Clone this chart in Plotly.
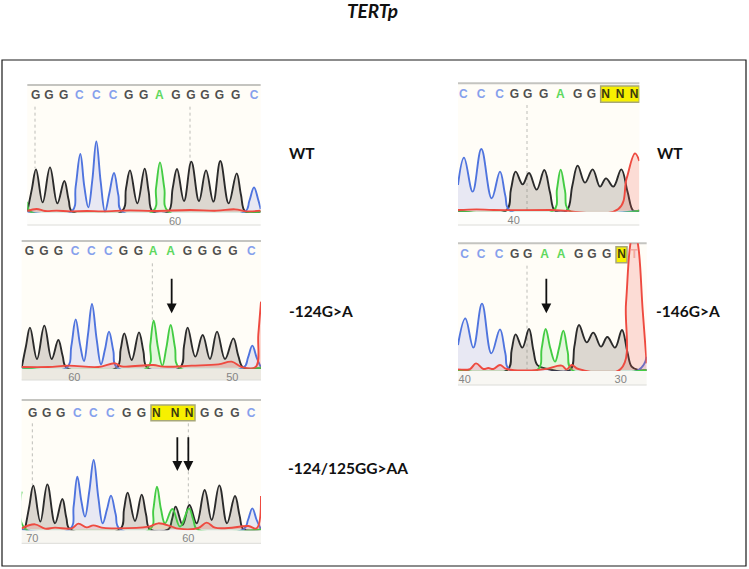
import plotly.graph_objects as go

W, H = 749, 569

# Traces: x = scan position, y = signal height, one list per dye channel
p1_black_x = [22, 36, 48, 68, 90, 112, 133, 146, 157, 305, 318, 330, 352, 374, 386, 398, 445, 458, 471, 492, 514, 537, 558, 580, 601, 626, 650, 663, 676, 722]
p1_black_y = [0, 70, 127, 28, 133, 25, 92, 35, 0, 0, 70, 124, 25, 129, 60, 0, 0, 70, 128, 32, 150, 32, 124, 30, 152, 25, 115, 50, 0, 0]
p1_blue_x = [22, 155, 167, 181, 193, 205, 217, 229, 242, 255, 268, 282, 295, 307, 675, 688, 702, 714, 722]
p1_blue_y = [0, 0, 75, 173, 75, 13, 95, 211, 90, 0, 55, 116, 50, 0, 0, 32, 73, 38, 8]
p1_green_x = [22, 32, 398, 408, 420, 433, 445, 722]
p1_green_y = [30, 0, 0, 70, 148, 70, 0, 0]
p1_red_x = [22, 50, 75, 110, 150, 200, 250, 330, 400, 510, 590, 645, 680, 722]
p1_red_y = [2, 8, 2, 3, 1, 2, 1, 4, 2, 5, 3, 7, 1, 3]

p2_black_x = [20, 33, 45, 66, 88, 110, 130, 143, 155, 305, 317, 328, 350, 372, 385, 397, 495, 507, 518, 541, 563, 585, 606, 630, 655, 670, 685, 738]
p2_black_y = [0, 65, 120, 26, 126, 26, 83, 35, 0, 0, 55, 103, 23, 106, 50, 0, 0, 65, 120, 33, 98, 26, 108, 26, 88, 35, 0, 0]
p2_blue_x = [20, 155, 169, 182, 195, 207, 219, 231, 245, 258, 270, 282, 295, 307, 685, 699, 712, 725, 738]
p2_blue_y = [0, 0, 65, 145, 70, 20, 100, 191, 85, 10, 55, 108, 50, 0, 0, 30, 66, 30, 0]
p2_green_x = [20, 397, 406, 416, 429, 442, 454, 467, 480, 493, 738]
p2_green_y = [0, 0, 70, 142, 60, 6, 60, 128, 60, 0, 0]
p2_red_x = [20, 100, 160, 250, 300, 320, 415, 445, 530, 610, 650, 680, 722, 730, 738]
p2_red_y = [2, 2, 6, 2, 13, 4, 8, 3, 6, 10, 18, 2, 2, 100, 198]

p3_black_x = [30, 43, 55, 76, 97, 120, 142, 154, 165, 315, 327, 338, 360, 380, 393, 405, 460, 471, 482, 503, 523, 545, 569, 590, 613, 636, 660, 674, 686, 738]
p3_black_y = [0, 70, 131, 23, 135, 18, 91, 35, 0, 0, 60, 110, 25, 104, 45, 0, 0, 30, 68, 13, 73, 18, 118, 28, 132, 18, 100, 40, 0, 0]
p3_blue_x = [20, 165, 176, 187, 199, 210, 223, 236, 250, 263, 276, 288, 302, 315, 686, 699, 712, 725, 738]
p3_blue_y = [0, 0, 70, 158, 85, 38, 115, 208, 95, 18, 60, 101, 45, 0, 0, 28, 63, 28, 0]
p3_green_x = [20, 32, 405, 415, 426, 438, 450, 472, 495, 522, 535, 547, 738]
p3_green_y = [113, 0, 0, 60, 128, 60, 18, 61, 8, 63, 28, 0, 0]
p3_red_x = [20, 60, 90, 120, 170, 190, 215, 235, 260, 290, 400, 430, 470, 490, 550, 575, 600, 640, 700, 725, 738]
p3_red_y = [3, 15, 2, 5, 3, 17, 6, 12, 5, 3, 8, 18, 8, 2, 4, 20, 5, 4, 10, 3, 100]

p4_black_x = [24, 168, 183, 197, 218, 237, 260, 283, 300, 315, 350, 367, 383, 405, 428, 450, 468, 490, 514, 533, 550, 568]
p4_black_y = [0, 0, 65, 117, 79, 113, 63, 122, 55, 0, 0, 75, 135, 84, 124, 72, 97, 72, 124, 55, 0, 0]
p4_blue_x = [24, 42, 68, 94, 125, 150, 166, 180, 568]
p4_blue_y = [77, 159, 57, 185, 37, 117, 45, 0, 0]
p4_green_x = [24, 310, 321, 332, 345, 358, 568]
p4_green_y = [0, 0, 65, 123, 60, 0, 0]
p4_red_x = [24, 80, 130, 300, 505, 530, 555, 568]
p4_red_y = [2, 4, 2, 2, 5, 97, 172, 149]

p5_black_x = [24, 172, 185, 197, 217, 237, 250, 262, 285, 360, 373, 387, 410, 430, 453, 472, 495, 516, 532, 545, 565, 590]
p5_black_y = [0, 0, 60, 107, 67, 123, 60, 15, 5, 0, 70, 135, 83, 112, 70, 99, 67, 120, 55, 10, 0, 0]
p5_blue_x = [24, 46, 70, 96, 124, 150, 166, 180, 565, 590]
p5_blue_y = [75, 155, 67, 199, 50, 122, 50, 0, 0, 40]
p5_green_x = [24, 262, 275, 287, 301, 315, 327, 340, 353, 366, 590]
p5_green_y = [0, 0, 65, 123, 65, 25, 65, 118, 55, 0, 0]
p5_red_x = [24, 60, 78, 100, 115, 130, 150, 170, 280, 335, 350, 365, 385, 512, 528, 540, 552, 565, 578, 590]
p5_red_y = [2, 3, 20, 3, 6, 3, 15, 3, 2, 13, 2, 15, 3, 3, 200, 370, 430, 370, 180, 20]

# Base calls
p1_bases = list("GGGCCCGGAGGGGGC")
p1_base_x = [47, 87, 131, 178, 229, 279, 326, 371, 418, 468, 513, 555, 598, 647, 702]
p2_bases = list("GGGCCCGGAAGGGGC")
p2_base_x = [43, 87, 130, 180, 229, 280, 325, 370, 414, 467, 517, 562, 606, 654, 709]
p3_bases = list("GGGCCCGGNNNGGGC")
p3_base_x = [53, 95, 137, 187, 235, 286, 335, 379, 424, 480, 522, 569, 611, 660, 708]
p4_bases = list("CCCGGGAGGNNN")
p4_base_x = [40, 93, 149, 193, 233, 281, 331, 383, 424, 467, 510, 552]
p5_bases = list("CCCGGAAGGGNT")
p5_base_x = [44, 93, 147, 194, 233, 284, 333, 386, 426, 470, 515, 553]

# Position ruler
p1_tick_x, p1_tick_text = [465], ["60"]
p2_tick_x, p2_tick_text = [178, 652], ["60", "50"]
p3_tick_x, p3_tick_text = [52, 520], ["70", "60"]
p4_tick_x, p4_tick_text = [191], ["40"]
p5_tick_x, p5_tick_text = [44, 512], ["40", "30"]

row_labels = ["WT", "-124G>A", "-124/125GG>AA", "WT", "-146G>A"]

BASE_COLORS = {"G": "#505050", "C": "#86a0ec", "A": "#5ed85e", "N": "#3a3a10", "T": "#f2a8a0"}
CHANNELS = [
    ("black", "#2b2b2b", "rgba(120,110,95,0.26)"),
    ("blue", "#4f74de", "rgba(110,125,225,0.16)"),
    ("green", "#44cc44", "rgba(80,210,80,0.16)"),
    ("red", "#ee4a40", "rgba(240,90,80,0.20)"),
]

# ox, oy: page offset of the scan coordinates (3 units = 1 px), zl/zr: scan range,
# zb: baseline, zt: top of the strip, strip: ruler bottom
panels = [
    dict(ox=20, oy=75, zl=22, zr=722, zb=410, zt=30, zbot=450, text_z=63, strip="#fdfdfb",
         traces=dict(black=(p1_black_x, p1_black_y), blue=(p1_blue_x, p1_blue_y),
                     green=(p1_green_x, p1_green_y), red=(p1_red_x, p1_red_y)),
         bases=p1_bases, base_x=p1_base_x, ticks=(p1_tick_x, p1_tick_text),
         guides=[(45, 95, 280), (510, 95, 262)], boxes=[], arrows=[], tick_pad=0),
    dict(ox=15, oy=235, zl=20, zr=738, zb=398, zt=18, zbot=435, text_z=52, strip="#ece9e1",
         traces=dict(black=(p2_black_x, p2_black_y), blue=(p2_blue_x, p2_blue_y),
                     green=(p2_green_x, p2_green_y), red=(p2_red_x, p2_red_y)),
         bases=p2_bases, base_x=p2_base_x, ticks=(p2_tick_x, p2_tick_text),
         guides=[(412, 85, 255)], boxes=[], arrows=[(470, 127, 235)], tick_pad=0),
    dict(ox=15, oy=395, zl=20, zr=738, zb=403, zt=15, zbot=445, text_z=57, strip="#f7f6f1",
         traces=dict(black=(p3_black_x, p3_black_y), blue=(p3_blue_x, p3_blue_y),
                     green=(p3_green_x, p3_green_y), red=(p3_red_x, p3_red_y)),
         bases=p3_bases, base_x=p3_base_x, ticks=(p3_tick_x, p3_tick_text),
         guides=[(52, 85, 270), (520, 85, 330)], boxes=[(408, 540, 30, 77)],
         arrows=[(487, 122, 228), (520, 122, 228)], tick_pad=0),
    dict(ox=450, oy=75, zl=24, zr=568, zb=407, zt=25, zbot=450, text_z=60, strip="#fdfdfb",
         traces=dict(black=(p4_black_x, p4_black_y), blue=(p4_blue_x, p4_blue_y),
                     green=(p4_green_x, p4_green_y), red=(p4_red_x, p4_red_y)),
         bases=p4_bases, base_x=p4_base_x, ticks=(p4_tick_x, p4_tick_text),
         guides=[(231, 90, 405)], boxes=[(452, 568, 33, 82)], arrows=[], tick_pad=0),
    dict(ox=450, oy=235, zl=24, zr=590, zb=405, zt=25, zbot=450, text_z=60, strip="#f8f7f3",
         traces=dict(black=(p5_black_x, p5_black_y), blue=(p5_blue_x, p5_blue_y),
                     green=(p5_green_x, p5_green_y), red=(p5_red_x, p5_red_y)),
         bases=p5_bases, base_x=p5_base_x, ticks=(p5_tick_x, p5_tick_text),
         guides=[(231, 92, 403)], boxes=[(498, 531, 35, 83)], arrows=[(289, 127, 235)], tick_pad=0),
]


def page_x(px):
    return px / W


def page_y(px):
    return 1 - px / H


fig = go.Figure()
shapes = []
annotations = []
axes = {}

for i, p in enumerate(panels, start=1):
    xname = f"x{i}"
    yname = f"y{i}"
    left = p["ox"] + p["zl"] / 3
    right = p["ox"] + p["zr"] / 3
    top = p["oy"] + p["zt"] / 3
    bottom = p["oy"] + (p["zb"] + 3) / 3
    strip_bottom = p["oy"] + p["zbot"] / 3

    axes[f"xaxis{i}"] = dict(
        domain=[page_x(left), page_x(right)], range=[p["zl"], p["zr"]], anchor=yname,
        showgrid=False, zeroline=False, showline=False, ticks="",
        tickmode="array", tickvals=p["ticks"][0], ticktext=p["ticks"][1],
        tickfont=dict(family="Liberation Sans", size=11, color="#858585"),
        ticklabelstandoff=p["tick_pad"],
    )
    axes[f"yaxis{i}"] = dict(
        domain=[page_y(bottom), page_y(top)], range=[-3, p["zb"] - p["zt"]], anchor=xname,
        showgrid=False, zeroline=False, showline=False, showticklabels=False, ticks="",
    )

    # ruler strip below the trace and the grey rule along the top
    shapes.append(dict(type="rect", xref="paper", yref="paper", layer="below",
                       x0=page_x(left), x1=page_x(right), y0=page_y(strip_bottom), y1=page_y(bottom),
                       fillcolor=p["strip"], line_width=0))
    shapes.append(dict(type="line", xref="paper", yref="paper", layer="below",
                       x0=page_x(left), x1=page_x(right), y0=page_y(top), y1=page_y(top),
                       line=dict(color="#c4c4c0", width=2)))
    shapes.append(dict(type="line", xref="paper", yref="paper", layer="below",
                       x0=page_x(left), x1=page_x(right), y0=page_y(strip_bottom), y1=page_y(strip_bottom),
                       line=dict(color="#dcdcd8", width=1)))

    for x0, x1, z0, z1 in p["boxes"]:
        shapes.append(dict(type="rect", xref=xname, yref=yname, layer="below",
                           x0=x0, x1=x1, y0=p["zb"] - z1, y1=p["zb"] - z0,
                           fillcolor="#f7f000", line=dict(color="#a8a878", width=1.5)))

    # dotted position guides
    gx, gy = [], []
    for x, z0, z1 in p["guides"]:
        gx += [x, x, None]
        gy += [p["zb"] - z0, p["zb"] - z1, None]
    fig.add_trace(go.Scatter(x=gx, y=gy, xaxis=xname, yaxis=yname, mode="lines", hoverinfo="skip",
                             line=dict(color="#bdbdb8", width=1, dash="dot"), showlegend=False))

    for name, color, fill in CHANNELS:
        xs, ys = p["traces"][name]
        fig.add_trace(go.Scatter(x=xs, y=ys, xaxis=xname, yaxis=yname, mode="lines",
                                 line=dict(color=color, width=1.9, shape="spline", smoothing=1.1),
                                 fill="tozeroy", fillcolor=fill, name=name, showlegend=False))

    fig.add_trace(go.Scatter(
        x=p["base_x"], y=[p["zb"] - p["text_z"]] * len(p["base_x"]), xaxis=xname, yaxis=yname,
        mode="text", text=p["bases"], hoverinfo="skip", showlegend=False,
        textfont=dict(family="Liberation Sans", size=12, weight="bold",
                      color=[BASE_COLORS[b] for b in p["bases"]]),
    ))

    for x, z0, z1 in p["arrows"]:
        annotations.append(dict(x=x, y=p["zb"] - z1, ax=x, ay=p["zb"] - z0, xref=xname, yref=yname,
                                axref=xname, ayref=yname, text="", showarrow=True,
                                arrowhead=2, arrowsize=1.1, arrowwidth=1.8, arrowcolor="#111111"))

label_pos = [(287, 153), (287, 311), (286, 468), (655, 153), (654, 311)]
for text, (lx, ly) in zip(row_labels, label_pos):
    annotations.append(dict(x=page_x(lx), y=page_y(ly), xref="paper", yref="paper", text=f"<b>{text}</b>",
                            xanchor="left", yanchor="middle", showarrow=False,
                            font=dict(family="Lato", size=15.5, color="#111111")))

annotations.append(dict(x=page_x(372), y=page_y(11), xref="paper", yref="paper", text="<b><i>TERTp</i></b>",
                        xanchor="center", yanchor="middle", showarrow=False,
                        font=dict(family="Lato", size=19, color="#111111")))

# outer frame
shapes.append(dict(type="rect", xref="paper", yref="paper", layer="below",
                   x0=page_x(2), x1=page_x(746), y0=page_y(566), y1=page_y(60),
                   line=dict(color="#1a1a1a", width=1.2), fillcolor="rgba(0,0,0,0)"))

fig.update_layout(
    width=W, height=H, margin=dict(l=0, r=0, t=0, b=0), autosize=False,
    paper_bgcolor="white", plot_bgcolor="#fffdf7", showlegend=False,
    shapes=shapes, annotations=annotations, **axes,
)

fig.write_html("out.html", config=dict(displayModeBar=False),
               post_script="document.body.style.margin='0';document.body.style.overflow='hidden';")
